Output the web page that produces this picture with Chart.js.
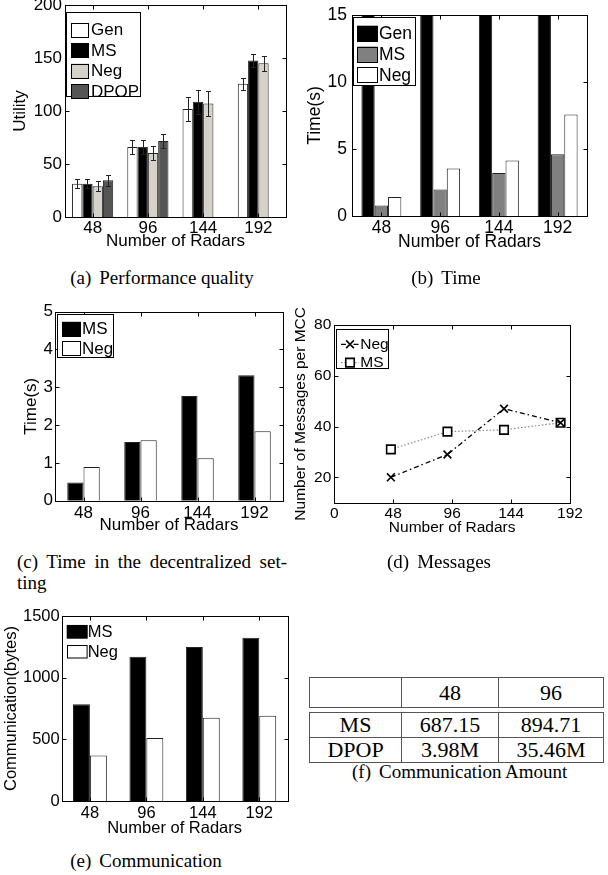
<!DOCTYPE html>
<html>
<head>
<meta charset="utf-8">
<script src="https://cdn.jsdelivr.net/npm/chart.js@4.4.1/dist/chart.umd.min.js"></script>
<style>
  body { margin: 0; background: #fff; }
  #page { position: relative; width: 608px; height: 875px; overflow: hidden; }
  canvas { position: absolute; }
  .cap { position: absolute; font-family: 'Liberation Serif', 'Times New Roman', serif; font-size: 19px; line-height: 22px; color: #000; white-space: nowrap; }
  .cap b { font-weight: normal; margin-right: 8px; }
  table { position: absolute; border-collapse: collapse; table-layout: fixed; font-family: 'Liberation Serif', 'Times New Roman', serif; font-size: 22px; color: #000; }
  td { border: 1px solid #555; text-align: center; padding: 0; }
  #fHead td { height: 29px; }
  #fBody td { height: 24px; line-height: 24px; }
</style>
</head>
<body>
<div id="page">
  <canvas id="a" width="300" height="265" style="left:0;top:0"></canvas>
  <canvas id="b" width="308" height="265" style="left:300px;top:0"></canvas>
  <canvas id="c" width="300" height="250" style="left:0;top:290px"></canvas>
  <canvas id="d" width="320" height="260" style="left:288px;top:290px"></canvas>
  <canvas id="e" width="300" height="245" style="left:0;top:600px"></canvas>
  <table id="fHead" style="left:309px;top:677px;width:294px"></table>
  <table id="fBody" style="left:309px;top:712px;width:294px"></table>

  <div class="cap" style="left:0;top:267px;width:324px;text-align:center"><b>(a)</b>Performance quality</div>
  <div class="cap" style="left:346px;top:267px;width:200px;text-align:center"><b>(b)</b>Time</div>
  <div class="cap" style="left:17px;top:551px;width:270px;text-align:justify;text-align-last:justify">(c) Time in the decentralized set-</div>
  <div class="cap" style="left:17px;top:572px">ting</div>
  <div class="cap" style="left:339px;top:551px;width:200px;text-align:center"><b>(d)</b>Messages</div>
  <div class="cap" style="left:46px;top:850px;width:200px;text-align:center"><b>(e)</b>Communication</div>
  <div class="cap" style="left:352px;top:761px;width:200px;text-align:center"><b>(f)</b>Communication Amount</div>
</div>
<script>
// categories
const radars = ['48', '96', '144', '192'];
const radarNums = [48, 96, 144, 192];

// (a) utility with error bars
const utilGen = [31.4, 66, 102, 125.7];
const utilMS = [31.4, 66.2, 108.8, 147.7];
const utilNeg = [29, 60.4, 107, 145];
const utilDPOP = [34.6, 71.6, null, null];
const errGen = [4.2, 6.3, 11, 5.5];
const errMS = [4.5, 6.3, 11.2, 5.8];
const errNeg = [4.5, 6.3, 11.5, 7.2];
const errDPOP = [4.9, 6.6, null, null];

// (b) time, Gen runs off the top of the axis
const timeGen = [22, 45, 90, 160];
const timeMS = [0.78, 1.97, 3.21, 4.61];
const timeNeg = [1.42, 3.54, 4.15, 7.58];

// (c) time, decentralized
const decMS = [0.48, 1.55, 2.77, 3.32];
const decNeg = [0.89, 1.6, 1.12, 1.84];

// (d) messages per MCC
const msgNeg = [20, 29, 47, 41.5];
const msgMS = [31, 38, 38.7, 41.5];
const msgTicks = ['0', '48', '96', '144', '192'];

// (e) communication
const commMS = [784, 1170, 1249, 1324];
const commNeg = [368, 511, 676, 692];

// (f) table
const tblHead = ['', '48', '96'];
const tblMS = ['687.15', '894.71'];
const tblDPOP = ['3.98M', '35.46M'];

const FONT = "'Liberation Sans', Arial, sans-serif";
Chart.defaults.font.family = FONT;
Chart.defaults.color = '#000';

const xy = arr => arr.map((v, i) => ({ x: i + 1, y: v }));

// matlab style box with inward ticks
const frame = {
  id: 'frame',
  afterDraw(chart) {
    const { ctx, chartArea: a, scales } = chart;
    const L = Math.round(a.left) + 0.5, T = Math.round(a.top) + 0.5;
    const R = Math.round(a.right) + 0.5, B = Math.round(a.bottom) + 0.5;
    ctx.save();
    ctx.strokeStyle = '#000';
    ctx.lineWidth = 1;
    ctx.strokeRect(L, T, R - L, B - T);
    ctx.beginPath();
    scales.x.ticks.forEach(tk => {
      const px = Math.round(scales.x.getPixelForValue(tk.value)) + 0.5;
      ctx.moveTo(px, B); ctx.lineTo(px, B - 4);
      ctx.moveTo(px, T); ctx.lineTo(px, T + 4);
    });
    scales.y.ticks.forEach(tk => {
      const py = Math.round(scales.y.getPixelForValue(tk.value)) + 0.5;
      ctx.moveTo(L, py); ctx.lineTo(L + 4, py);
      ctx.moveTo(R, py); ctx.lineTo(R - 4, py);
    });
    ctx.stroke();
    ctx.restore();
  }
};

const errBars = {
  id: 'errBars',
  afterDatasetsDraw(chart) {
    const { ctx, scales: { y } } = chart;
    ctx.save();
    ctx.strokeStyle = '#222';
    ctx.lineWidth = 1;
    chart.data.datasets.forEach((ds, i) => {
      if (!ds.errors) return;
      chart.getDatasetMeta(i).data.forEach((bar, j) => {
        const v = ds.data[j].y, e = ds.errors[j];
        if (v == null || e == null) return;
        const x = Math.round(bar.x) + 0.5;
        const yt = Math.round(y.getPixelForValue(v + e)) + 0.5;
        const yb = Math.round(y.getPixelForValue(v - e)) + 0.5;
        ctx.beginPath();
        ctx.moveTo(x, yt); ctx.lineTo(x, yb);
        ctx.moveTo(x - 2.5, yt); ctx.lineTo(x + 2.5, yt);
        ctx.moveTo(x - 2.5, yb); ctx.lineTo(x + 2.5, yb);
        ctx.stroke();
      });
    });
    ctx.restore();
  }
};

// legend drawn inside the axes, like matlab 'NorthWest'
const boxLegend = {
  id: 'boxLegend',
  afterDraw(chart, args, o) {
    const { ctx, chartArea } = chart;
    const x0 = chartArea.left + o.x, y0 = chartArea.top + o.y;
    ctx.save();
    if (o.box) {
      ctx.fillStyle = '#fff';
      ctx.fillRect(x0, y0, o.w, o.h);
      ctx.strokeStyle = '#000';
      ctx.lineWidth = 1;
      ctx.strokeRect(Math.round(x0) + 0.5, Math.round(y0) + 0.5, o.w, o.h);
    }
    ctx.font = o.size + 'px ' + FONT;
    ctx.textBaseline = 'middle';
    ctx.textAlign = 'left';
    chart.data.datasets.forEach((ds, i) => {
      const cy = y0 + o.first + i * o.step;
      if (o.line) {
        ctx.strokeStyle = ds.borderColor;
        ctx.lineWidth = ds.borderWidth;
        ctx.setLineDash(ds.borderDash);
        ctx.beginPath();
        ctx.moveTo(x0 + o.sx, cy); ctx.lineTo(x0 + o.sx + o.sw, cy);
        ctx.stroke();
        ctx.setLineDash([]);
        ctx.fillStyle = ds.pointBackgroundColor;
        ctx.strokeStyle = ds.pointBorderColor;
        ctx.lineWidth = ds.pointBorderWidth;
        Chart.helpers.drawPoint(ctx, { pointStyle: ds.pointStyle, radius: ds.pointRadius, borderWidth: ds.pointBorderWidth, rotation: 0 }, x0 + o.sx + o.sw / 2, cy);
      } else {
        ctx.fillStyle = ds.backgroundColor;
        ctx.fillRect(x0 + o.sx, cy - o.sh / 2, o.sw, o.sh);
        ctx.strokeStyle = ds.borderColor;
        ctx.lineWidth = 1;
        ctx.strokeRect(Math.round(x0 + o.sx) + 0.5, Math.round(cy - o.sh / 2) + 0.5, o.sw - 1, o.sh - 1);
      }
      ctx.fillStyle = '#000';
      ctx.fillText(ds.label, x0 + o.tx, cy + 0.5);
    });
    ctx.restore();
  }
};

function axes(p) {
  return {
    x: {
      type: 'linear', min: p.xMin, max: p.xMax, offset: false,
      grid: { display: false, drawTicks: false }, border: { display: false },
      ticks: { stepSize: p.xStep, includeBounds: false, autoSkip: false, maxRotation: 0, padding: p.xPad, font: { size: p.fs }, callback: p.xLabel },
      afterBuildTicks: p.xTicks,
      title: { display: true, text: 'Number of Radars', font: { size: p.fs }, padding: { top: 0, bottom: p.xTitle } },
      afterFit: s => { s.height = p.xH; s.paddingLeft = 0; s.paddingRight = 0; }
    },
    y: {
      min: p.yMin, max: p.yMax,
      grid: { display: false, drawTicks: false }, border: { display: false },
      ticks: { stepSize: p.yStep, includeBounds: false, padding: p.yPad, font: { size: p.fs }, callback: v => String(v) },
      title: { display: true, text: p.yText, font: { size: p.fs }, padding: { top: p.yTitle, bottom: 0 } },
      afterFit: s => { s.width = p.yW; s.paddingTop = 0; s.paddingBottom = 0; }
    }
  };
}

// one tick per radar group, at bar positions 1..4
const groupTicks = s => { s.ticks = radars.map((r, i) => ({ value: i + 1 })); };

function barChart(id, datasets, group, pad, p, legend) {
  return new Chart(document.getElementById(id), {
    type: 'bar',
    data: { datasets: datasets },
    options: {
      responsive: false,
      animation: false,
      layout: { padding: pad },
      datasets: { bar: { categoryPercentage: group, barPercentage: 1, borderWidth: 1, borderColor: '#222' } },
      scales: axes(Object.assign({ xMin: 0.5, xMax: 4.5, xStep: 1, yMin: 0, xTicks: groupTicks, xLabel: v => radars[v - 1] }, p)),
      plugins: { legend: { display: false }, tooltip: { enabled: false }, boxLegend: legend }
    },
    plugins: [errBars, frame, boxLegend]
  });
}

// (a)
barChart('a', [
  { label: 'Gen', data: xy(utilGen), errors: errGen, backgroundColor: '#ffffff' },
  { label: 'MS', data: xy(utilMS), errors: errMS, backgroundColor: '#000000' },
  { label: 'Neg', data: xy(utilNeg), errors: errNeg, backgroundColor: '#d6d2ca' },
  { label: 'DPOP', data: xy(utilDPOP), errors: errDPOP, backgroundColor: '#555555' }
], 0.745, { top: 5, right: 14, left: 0, bottom: 0 },
  { fs: 17, xH: 48, xPad: 1.6, xTitle: 13, yMax: 200, yStep: 50, yPad: 3, yW: 65, yText: 'Utility', yTitle: 10.3 },
  { box: true, x: 1, y: 7, w: 74, h: 84, sx: 5, sw: 18, sh: 15, tx: 25, first: 18, step: 20.5, size: 17 });

// (b)
barChart('b', [
  { label: 'Gen', data: xy(timeGen), backgroundColor: '#000000' },
  { label: 'MS', data: xy(timeMS), backgroundColor: '#808080' },
  { label: 'Neg', data: xy(timeNeg), backgroundColor: '#ffffff' }
], 0.68, { top: 15, right: 21, left: 0, bottom: 0 },
  { fs: 17.5, xH: 49, xPad: 1.3, xTitle: 12.5, yMax: 15, yStep: 5, yPad: 5, yW: 52, yText: 'Time(s)', yTitle: 4.5 },
  { box: true, x: 1, y: 2, w: 62, h: 68, sx: 4, sw: 21, sh: 16, tx: 26, first: 16.7, step: 20.8, size: 17.5 });

// (c)
barChart('c', [
  { label: 'MS', data: xy(decMS), backgroundColor: '#000000' },
  { label: 'Neg', data: xy(decNeg), backgroundColor: '#ffffff' }
], 0.57, { top: 21.7, right: 17, left: 0, bottom: 0 },
  { fs: 17, xH: 39.3, xPad: 2.4, xTitle: 4.8, yMax: 5, yStep: 1, yPad: 2, yW: 55, yText: 'Time(s)', yTitle: 21.5 },
  { box: true, x: 2, y: 2.3, w: 56, h: 43, sx: 5, sw: 19, sh: 15, tx: 25, first: 15.3, step: 19.5, size: 17 });

// (e)
barChart('e', [
  { label: 'MS', data: xy(commMS), backgroundColor: '#000000' },
  { label: 'Neg', data: xy(commNeg), backgroundColor: '#ffffff' }
], 0.6, { top: 16, right: 12.5, left: 0, bottom: 0 },
  { fs: 16.5, xH: 44, xPad: 2.4, xTitle: 7.1, yMax: 1500, yStep: 500, yPad: 2, yW: 61.7, yText: 'Communication(bytes)', yTitle: 1.1 },
  { box: false, x: 0, y: 0, w: 0, h: 0, sx: 5, sw: 20.6, sh: 13.5, tx: 26, first: 15.7, step: 20, size: 16.5 });

// (d)
new Chart(document.getElementById('d'), {
  type: 'line',
  data: {
    datasets: [
      { label: 'Neg', data: radarNums.map((x, i) => ({ x: x, y: msgNeg[i] })),
        borderColor: '#000', borderWidth: 1.3, borderDash: [5, 3, 1.5, 3],
        pointStyle: 'crossRot', pointRadius: 5.5, pointBorderWidth: 1.6, pointBorderColor: '#000', pointBackgroundColor: '#fff' },
      { label: 'MS', data: radarNums.map((x, i) => ({ x: x, y: msgMS[i] })),
        borderColor: '#8a8a8a', borderWidth: 1.2, borderDash: [1.5, 2],
        pointStyle: 'rect', pointRadius: 6, pointBorderWidth: 1.6, pointBorderColor: '#000', pointBackgroundColor: '#fff' }
    ]
  },
  options: {
    responsive: false,
    animation: false,
    layout: { padding: { top: 35, right: 38, left: 0, bottom: 0 } },
    scales: axes({ fs: 15.5, xMin: 0, xMax: 200, xStep: 50, xLabel: (v, i) => msgTicks[i], xH: 47.3, xPad: 2, xTitle: 12.7,
                   yMin: 10, yMax: 80, yStep: 20, yPad: 3, yW: 46.3, yText: 'Number of Messages per MCC', yTitle: 3.2 }),
    plugins: {
      legend: { display: false }, tooltip: { enabled: false },
      boxLegend: { box: true, line: true, x: 2, y: 4.3, w: 52, h: 39, sx: 4.7, sw: 18, tx: 24, first: 15, step: 18.3, size: 15.5 }
    }
  },
  plugins: [frame, boxLegend]
});

// (f) table
function fillTable(id, rows) {
  const t = document.getElementById(id);
  t.innerHTML = '<colgroup><col style="width:92px"><col style="width:97px"><col style="width:105px"></colgroup>';
  rows.forEach(r => {
    const tr = t.insertRow();
    r.forEach(c => { tr.insertCell().textContent = c; });
  });
}
fillTable('fHead', [tblHead]);
fillTable('fBody', [['MS'].concat(tblMS), ['DPOP'].concat(tblDPOP)]);
</script>
</body>
</html>
